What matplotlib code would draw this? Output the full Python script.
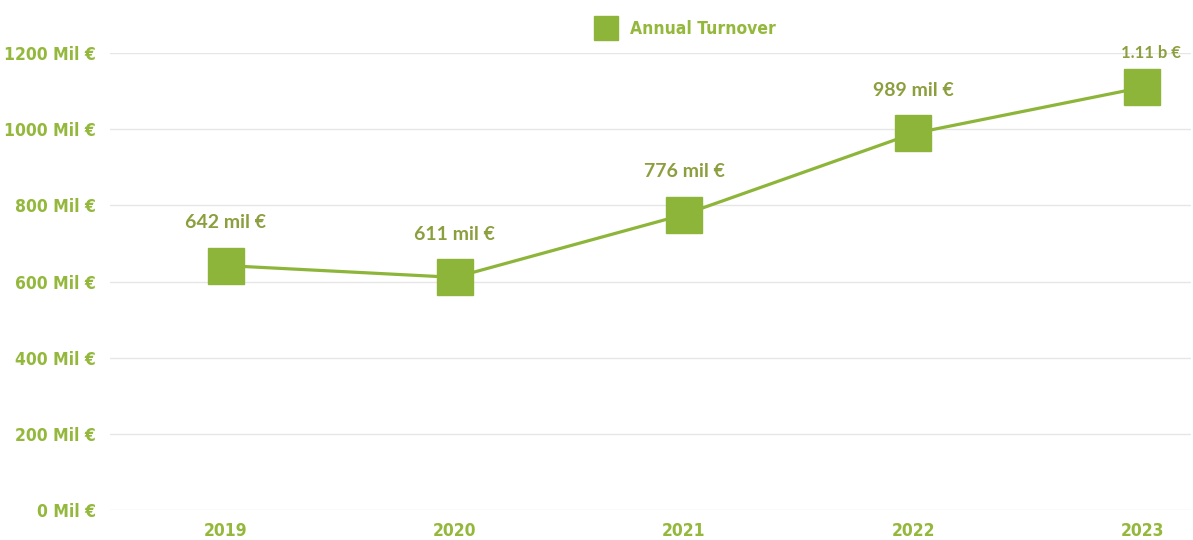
import matplotlib
matplotlib.use("Agg")
import matplotlib.pyplot as plt

# ── Data ───────────────────────────────────────────────────────────────────────
years = ["2019", "2020", "2021", "2022", "2023"]
turnover = [642, 611, 776, 989, 1110]          # Mil €
point_labels = ["642 mil €", "611 mil €", "776 mil €", "989 mil €", "1.11 b €"]
y_ticks = [0, 200, 400, 600, 800, 1000, 1200]
y_tick_labels = [f"{v} Mil €" for v in y_ticks]

GREEN = "#8db53a"
TICK_GREEN = "#93b83b"
LABEL_GREEN = "#8c9f3e"
COND = dict(family="DejaVu Sans", stretch="condensed", weight="bold")

fig = plt.figure(figsize=(11.93, 5.40), dpi=100)
ax = fig.add_axes([0.092, 0.0556, 0.906, 0.846])

x = list(range(len(years)))
ax.plot(x, turnover, "-", color=GREEN, lw=2.3, zorder=3, clip_on=False)
ax.plot(x, turnover, "s", color=GREEN, ms=26, zorder=4, clip_on=False,
        label="Annual Turnover")

for i, (v, lab) in enumerate(zip(turnover, point_labels)):
    last = i == len(years) - 1
    ax.annotate(lab, (i, v), xytext=(6 if last else 0, 25 if last else 31),
                textcoords="offset points", ha="center", va="center",
                fontsize=12 if last else 14, fontweight="bold",
                family="Lato", color=LABEL_GREEN)

ax.set_xlim(-0.505, 4.21)
ax.set_ylim(0, 1200)
ax.set_yticks(y_ticks)
ax.set_yticklabels(y_tick_labels)
ax.set_xticks(x)
ax.set_xticklabels(years)

for lbl in ax.get_yticklabels() + ax.get_xticklabels():
    lbl.set_family(COND["family"])
    lbl.set_stretch(COND["stretch"])
    lbl.set_fontweight("bold")
    lbl.set_fontsize(12.5)
    lbl.set_color(TICK_GREEN)

ax.tick_params(axis="both", length=0)
ax.tick_params(axis="y", pad=10)
ax.tick_params(axis="x", pad=9)
ax.grid(axis="y", color="#e6e6e6", lw=1)
ax.set_axisbelow(True)
for s in ax.spines.values():
    s.set_visible(False)

leg = fig.legend(loc="center", bbox_to_anchor=(0.572, 0.946), frameon=False,
                 handletextpad=0.4, markerscale=0.66,
                 prop={"family": COND["family"], "stretch": "condensed",
                       "weight": "bold", "size": 12.5})
for t in leg.get_texts():
    t.set_color(TICK_GREEN)

fig.savefig("out.png", dpi=100)
